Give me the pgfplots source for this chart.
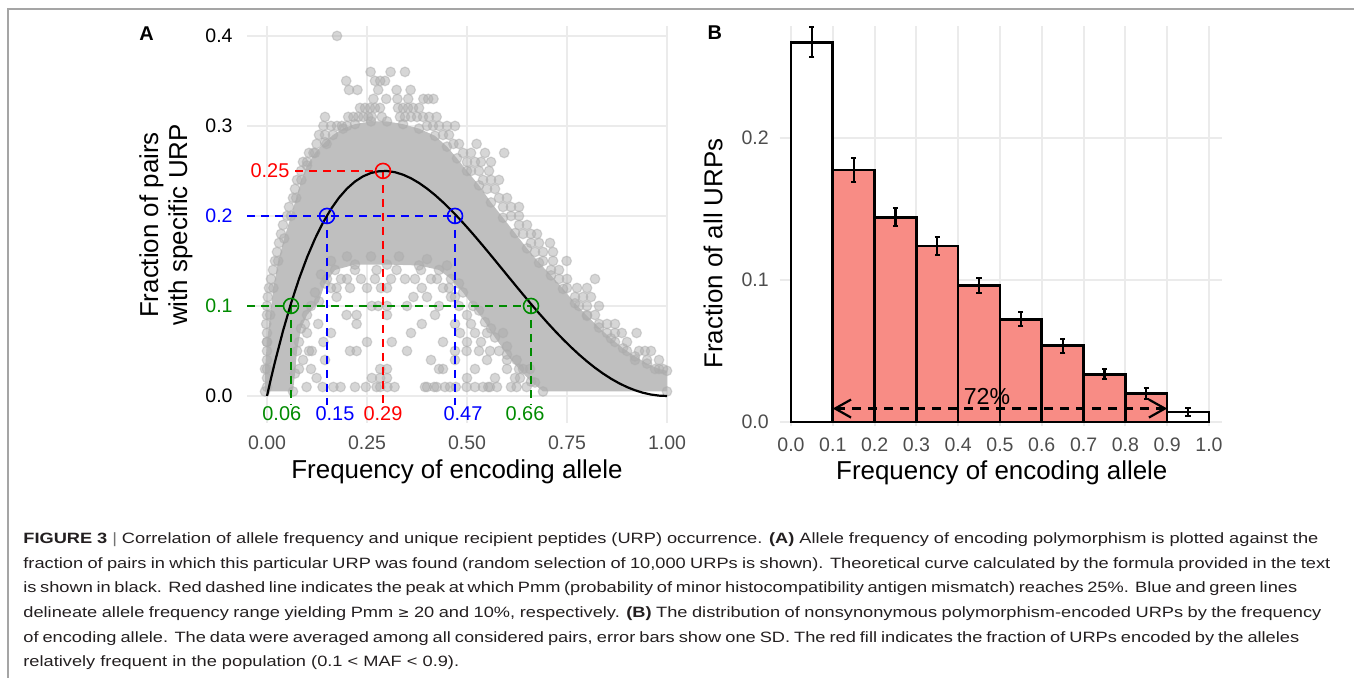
\documentclass[border=0pt]{standalone}
\usepackage{fontspec}
\setmainfont{Liberation Sans}
\newfontfamily\capfont[FakeStretch=1.22]{Liberation Sans}
\newfontfamily\djv{DejaVu Sans}
\usepackage{pgfplots}
\pgfplotsset{compat=1.18}
\usetikzlibrary{arrows.meta}
\definecolor{grn}{RGB}{0,139,0}
\definecolor{gridc}{RGB}{235,235,235}
\definecolor{tickc}{RGB}{77,77,77}
\definecolor{barred}{RGB}{248,140,133}
\definecolor{framec}{RGB}{165,165,165}
\definecolor{captc}{RGB}{35,31,32}
\newcommand{\tickfont}{\fontsize{9.8}{11}\selectfont}
\newcommand{\titlefont}{\fontsize{13}{14.6}\selectfont}
\begin{document}
\begin{tikzpicture}
\path[use as bounding box] (0,0) rectangle (677bp,339bp);
\draw[framec, line width=0.8bp] (4bp,0) -- (4bp,334.5bp) -- (677bp,334.5bp);

% ---------------- Panel A ----------------
\begin{axis}[at={(123.5bp,127.5bp)}, anchor=south west, scale only axis,
  width=210bp, height=198.5bp,
  xmin=-0.05, xmax=1.0, ymin=-0.03, ymax=0.411,
  axis line style={draw=none}, major tick length=0pt,
  xtick={0,0.25,0.5,0.75,1}, xticklabels={0.00,0.25,0.50,0.75,1.00},
  ytick={0,0.1,0.2,0.3,0.4},
  yticklabels={0.0,\textcolor{grn}{0.1},\textcolor{blue}{0.2},0.3,0.4},
  xticklabel style={font=\tickfont, text=tickc, anchor=north, inner sep=0pt, yshift=-6bp},
  yticklabel style={font=\tickfont, text=black, anchor=east, inner sep=0pt, xshift=-7bp},
  grid=major, major grid style={gridc, line width=1bp},
  clip mode=individual,
]
\pgfplotstableread{
x y
-0.005 0.005
-0.005 0.03
0.0 0.06
0.008 0.09
0.016 0.12
0.028 0.15
0.043 0.175
0.06 0.2
0.073 0.22
0.086 0.24
0.1 0.256
0.12 0.27
0.145 0.282
0.165 0.29
0.19 0.297
0.22 0.302
0.26 0.305
0.3 0.305
0.34 0.302
0.38 0.297
0.42 0.289
0.45 0.277
0.475 0.264
0.5 0.25
0.53 0.234
0.56 0.215
0.59 0.198
0.62 0.181
0.65 0.164
0.68 0.148
0.71 0.134
0.74 0.119
0.77 0.103
0.8 0.089
0.83 0.076
0.86 0.064
0.89 0.053
0.92 0.044
0.95 0.036
0.98 0.03
1.0 0.028
1.0 0.005
0.69 0.005
0.66 0.016
0.63 0.03
0.6 0.046
0.57 0.065
0.545 0.082
0.515 0.1
0.49 0.115
0.46 0.13
0.43 0.14
0.38 0.145
0.3 0.146
0.22 0.146
0.17 0.14
0.145 0.125
0.13 0.105
0.1 0.09
0.085 0.075
0.075 0.05
0.07 0.025
0.065 0.005
}\core
% dense core of the scatter
\addplot[fill=black!25, draw=none] table {\core} -- cycle;
% points on the edge of the core
\addplot[only marks, mark=*, mark size=2.4bp,
  mark options={fill=black!32, draw=black!32, line width=0.6bp, opacity=0.5}] table {\core};
% individual points
\addplot[only marks, mark=*, mark size=2.4bp,
  mark options={fill=black!32, draw=black!32, line width=0.6bp, opacity=0.5}] table {
x y
0.175 0.40
0.259 0.36
0.309 0.36
0.345 0.36
0.198 0.35
0.27 0.35
0.283 0.35
0.295 0.35
0.205 0.34
0.226 0.34
0.278 0.34
0.324 0.34
0.359 0.34
0.266 0.33
0.298 0.33
0.326 0.33
0.353 0.33
0.391 0.33
0.403 0.33
0.416 0.33
0.2325 0.32
0.245 0.32
0.2575 0.32
0.27 0.32
0.2825 0.32
0.3275 0.32
0.34 0.32
0.3525 0.32
0.365 0.32
0.38 0.32
0.145 0.31
0.203 0.31
0.216 0.31
0.228 0.31
0.241 0.31
0.253 0.31
0.262 0.31
0.287 0.31
0.3325 0.31
0.345 0.31
0.36 0.31
0.375 0.31
0.39 0.31
0.405 0.31
0.424 0.31
0.141 0.30
0.16 0.30
0.175 0.30
0.187 0.30
0.2 0.30
0.4 0.30
0.415 0.30
0.43 0.30
0.45 0.30
0.47 0.30
0.13 0.29
0.145 0.29
0.44 0.29
0.455 0.29
0.124 0.28
0.149 0.28
0.466 0.28
0.48 0.28
0.524 0.28
0.105 0.27
0.116 0.27
0.49 0.27
0.51 0.27
0.545 0.27
0.593 0.27
0.09 0.26
0.1 0.26
0.5 0.26
0.52 0.26
0.535 0.26
0.56 0.26
0.085 0.25
0.51 0.25
0.53 0.25
0.555 0.25
0.075 0.24
0.54 0.24
0.56 0.24
0.58 0.24
0.07 0.23
0.55 0.23
0.57 0.23
0.065 0.22
0.58 0.22
0.6 0.22
0.055 0.21
0.59 0.21
0.61 0.21
0.63 0.21
0.05 0.20
0.61 0.20
0.63 0.20
0.04 0.19
0.63 0.19
0.65 0.19
0.035 0.18
0.64 0.18
0.66 0.18
0.675 0.18
0.03 0.17
0.66 0.17
0.68 0.17
0.7075 0.17
0.025 0.16
0.67 0.16
0.69 0.16
0.715 0.16
0.02 0.15
0.69 0.15
0.715 0.15
0.749 0.15
0.015 0.14
0.71 0.14
0.73 0.14
0.01 0.13
0.73 0.13
0.75 0.13
0.82 0.13
0.005 0.12
0.75 0.12
0.775 0.12
0.8 0.12
0.002 0.11
0.77 0.11
0.79 0.11
0.81 0.11
0.0 0.10
0.78 0.10
0.8 0.10
0.83 0.10
0.0 0.09
0.8 0.09
0.82 0.09
-0.002 0.08
0.83 0.08
0.85 0.08
0.87 0.08
0.0 0.07
0.85 0.07
0.87 0.07
0.887 0.07
0.924 0.07
0.0 0.06
0.87 0.06
0.9 0.06
0.0 0.05
0.9 0.05
0.93 0.05
0.945 0.05
0.96 0.05
0.0 0.04
0.92 0.04
0.95 0.04
0.98 0.04
0.0 0.03
0.97 0.03
0.99 0.03
0.0 0.02
0.0 0.01
0.099 0.01
0.139 0.01
0.166 0.01
0.184 0.01
0.22 0.01
0.247 0.01
0.274 0.01
0.283 0.01
0.301 0.01
0.319 0.01
0.395 0.01
0.40 0.01
0.418 0.01
0.424 0.01
0.445 0.01
0.4575 0.01
0.472 0.01
0.499 0.01
0.52 0.01
0.54 0.01
0.553 0.01
0.5575 0.01
0.575 0.01
0.61 0.01
0.624 0.01
0.649 0.01
0.124 0.02
0.262 0.02
0.283 0.02
0.3 0.02
0.5 0.02
0.57 0.02
0.6325 0.02
0.283 0.03
0.3 0.03
0.43 0.03
0.44 0.03
0.52 0.03
0.6 0.03
0.6575 0.03
0.09 0.04
0.145 0.04
0.41 0.04
0.47 0.04
0.55 0.04
0.624 0.04
0.112 0.05
0.2075 0.05
0.224 0.05
0.35 0.05
0.47 0.05
0.499 0.05
0.53 0.05
0.5575 0.05
0.141 0.06
0.25 0.06
0.312 0.06
0.44 0.06
0.5 0.06
0.16 0.07
0.36 0.07
0.4825 0.07
0.52 0.07
0.55 0.07
0.59 0.07
0.128 0.08
0.224 0.08
0.387 0.08
0.47 0.08
0.199 0.09
0.224 0.09
0.3 0.09
0.42 0.09
0.262 0.10
0.278 0.10
0.3 0.10
0.35 0.10
0.43 0.10
0.48 0.10
0.174 0.11
0.366 0.11
0.4 0.11
0.46 0.11
0.174 0.12
0.2075 0.12
0.25 0.12
0.3 0.12
0.387 0.12
0.44 0.12
0.15 0.13
0.2 0.13
0.27 0.13
0.345 0.13
0.41 0.13
0.22 0.14
0.274 0.14
0.324 0.14
0.385 0.14
0.12 0.115
0.135 0.135
0.16 0.15
0.2 0.155
0.26 0.155
0.33 0.155
0.4 0.152
0.45 0.145
0.48 0.125
0.53 0.095
0.56 0.075
0.6 0.055
0.64 0.03
0.67 0.015
0.08 0.03
0.08 0.06
0.095 0.08
0.11 0.1
0.185 0.13
0.235 0.13
0.31 0.13
0.37 0.13
0.425 0.13
0.16 0.12
0.285 0.12
0.455 0.12
0.47 0.11
0.5 0.09
0.51 0.08
0.535 0.06
0.58 0.05
0.6 0.04
0.62 0.02
0.1 0.07
0.105 0.05
0.11 0.03
};
% guide lines
\addplot[red, line width=1bp, dash pattern=on 4bp off 3bp] coordinates {(0.07,0.25) (0.29,0.25)};
\addplot[red, line width=1bp, dash pattern=on 4bp off 3bp] coordinates {(0.29,0.25) (0.29,-0.01)};
\addplot[blue, line width=1bp, dash pattern=on 4bp off 3bp] coordinates {(-0.05,0.2) (0.47,0.2)};
\addplot[blue, line width=1bp, dash pattern=on 4bp off 3bp] coordinates {(0.15,0.2) (0.15,-0.01)};
\addplot[blue, line width=1bp, dash pattern=on 4bp off 3bp] coordinates {(0.47,0.2) (0.47,-0.01)};
\addplot[grn, line width=1bp, dash pattern=on 4bp off 3bp] coordinates {(-0.05,0.1) (0.66,0.1)};
\addplot[grn, line width=1bp, dash pattern=on 4bp off 3bp] coordinates {(0.06,0.1) (0.06,-0.01)};
\addplot[grn, line width=1bp, dash pattern=on 4bp off 3bp] coordinates {(0.66,0.1) (0.66,-0.01)};
% theoretical curve
\addplot[black, line width=1.1bp] table {
x y
0 0
0.01 0.019504
0.02 0.038032
0.04 0.072253
0.06 0.102851
0.08 0.130007
0.10 0.1539
0.12 0.174705
0.14 0.192592
0.16 0.207729
0.18 0.220278
0.20 0.2304
0.22 0.238249
0.24 0.243978
0.26 0.247734
0.28 0.249661
0.30 0.2499
0.32 0.248586
0.34 0.245853
0.36 0.241828
0.38 0.236637
0.40 0.2304
0.42 0.223235
0.44 0.215255
0.46 0.206569
0.48 0.197284
0.50 0.1875
0.52 0.177316
0.54 0.166825
0.56 0.156119
0.58 0.145283
0.60 0.1344
0.62 0.123549
0.64 0.112804
0.66 0.102237
0.68 0.091914
0.70 0.0819
0.72 0.072253
0.74 0.063030
0.76 0.054282
0.78 0.046057
0.80 0.0384
0.82 0.031350
0.84 0.024945
0.86 0.019216
0.88 0.014193
0.90 0.0099
0.92 0.006359
0.94 0.003587
0.96 0.001597
0.98 0.0004
1.00 0
};
% circles
\addplot[only marks, mark=o, mark size=3.75bp, red, mark options={line width=0.8bp}] coordinates {(0.29,0.25)};
\addplot[only marks, mark=o, mark size=3.75bp, blue, mark options={line width=0.8bp}] coordinates {(0.15,0.2) (0.47,0.2)};
\addplot[only marks, mark=o, mark size=3.75bp, grn, mark options={line width=0.8bp}] coordinates {(0.06,0.1) (0.66,0.1)};
% labels
\node[text=red, font=\fontsize{10}{12}\selectfont, inner sep=0pt] at (axis cs:0.0075,0.25) {0.25};
\node[text=grn, font=\fontsize{10}{12}\selectfont, inner sep=0pt] at (axis cs:0.037,-0.0193) {0.06};
\node[text=blue, font=\fontsize{10}{12}\selectfont, inner sep=0pt] at (axis cs:0.17,-0.0193) {0.15};
\node[text=red, font=\fontsize{10}{12}\selectfont, inner sep=0pt] at (axis cs:0.29,-0.0193) {0.29};
\node[text=blue, font=\fontsize{10}{12}\selectfont, inner sep=0pt] at (axis cs:0.49,-0.0193) {0.47};
\node[text=grn, font=\fontsize{10}{12}\selectfont, inner sep=0pt] at (axis cs:0.645,-0.0193) {0.66};
\end{axis}

% ---------------- Panel B ----------------
\begin{axis}[at={(389.85bp,125.85bp)}, anchor=south west, scale only axis,
  width=220.9bp, height=200.2bp,
  xmin=-0.027, xmax=1.03, ymin=-0.003, ymax=0.279,
  axis line style={draw=none}, major tick length=0pt,
  xtick={0,0.1,0.2,0.3,0.4,0.5,0.6,0.7,0.8,0.9,1.0},
  xticklabels={0.0,0.1,0.2,0.3,0.4,0.5,0.6,0.7,0.8,0.9,1.0},
  ytick={0,0.1,0.2}, yticklabels={0.0,0.1,0.2},
  xticklabel style={font=\tickfont, text=tickc, anchor=north, inner sep=0pt, yshift=-5.5bp},
  yticklabel style={font=\tickfont, text=tickc, anchor=east, inner sep=0pt, xshift=-5.3bp},
  grid=major, major grid style={gridc, line width=1bp},
  clip mode=individual,
]
\addplot[ybar, bar width=0.1, bar shift=0pt, fill=white, draw=black, line width=1.3bp,
  error bars/.cd, y dir=both, y explicit,
  error bar style={line width=1.1bp, black},
  error mark options={rotate=90, mark size=1.3bp, line width=1.1bp, black}]
  table[x=x, y=y, y error=e] {
x y e
0.05 0.2675 0.0105
0.95 0.0072 0.0029
};
\addplot[ybar, bar width=0.1, bar shift=0pt, fill=barred, draw=black, line width=1.3bp,
  error bars/.cd, y dir=both, y explicit,
  error bar style={line width=1.1bp, black},
  error mark options={rotate=90, mark size=1.3bp, line width=1.1bp, black}]
  table[x=x, y=y, y error=e] {
x y e
0.15 0.1776 0.0083
0.25 0.1442 0.0064
0.35 0.1241 0.0062
0.45 0.0960 0.0053
0.55 0.0724 0.0050
0.65 0.0537 0.0049
0.75 0.0336 0.0035
0.85 0.0201 0.0037
};
\addplot[black, line width=1.1bp, dash pattern=on 4.5bp off 3.5bp,
  {Straight Barb[length=8bp, width=9bp, line width=1.1bp]}-{Straight Barb[length=8bp, width=9bp, line width=1.1bp]}]
  coordinates {(0.1,0.0095) (0.9,0.0095)};
\node[font=\fontsize{11.6}{13}\selectfont, inner sep=0pt] at (axis cs:0.469,0.0178) {72\%};
\end{axis}

% ---------------- titles ----------------
\node[font=\bfseries\fontsize{10}{12}\selectfont, inner sep=0pt] at (73.25bp,322bp) {A};
\node[font=\bfseries\fontsize{10}{12}\selectfont, inner sep=0pt] at (357.35bp,322.5bp) {B};
\node[font=\titlefont, inner sep=0pt] at (228.5bp,103bp) {Frequency of encoding allele};
\node[font=\titlefont, inner sep=0pt] at (500.9bp,102.75bp) {Frequency of encoding allele};
\node[font=\titlefont, inner sep=0pt, rotate=90, align=center] at (83bp,226.5bp) {Fraction of pairs\\with specific URP};
\node[font=\titlefont, inner sep=0pt, rotate=90] at (356.5bp,212.25bp) {Fraction of all URPs};

% ---------------- caption ----------------
\begin{scope}[every node/.style={anchor=base west, inner sep=0pt, text=captc, font=\capfont\fontsize{7.5}{9}\selectfont}]
\node at (11.5bp,67bp) {\makebox[647.5bp][s]{\textbf{FIGURE 3} \textcolor{black!55}{|} Correlation of allele frequency and unique recipient peptides (URP) occurrence. \textbf{(A)} Allele frequency of encoding polymorphism is plotted against the}};
\node at (11.5bp,54.75bp) {\makebox[653.5bp][s]{fraction of pairs in which this particular URP was found (random selection of 10,000 URPs is shown). Theoretical curve calculated by the formula provided in the text}};
\node at (11.5bp,42.5bp) {\makebox[637bp][s]{is shown in black. Red dashed line indicates the peak at which Pmm (probability of minor histocompatibility antigen mismatch) reaches 25\%. Blue and green lines}};
\node at (11.5bp,30.25bp) {\makebox[649bp][s]{delineate allele frequency range yielding Pmm {\djv\fontsize{7}{9}\selectfont ≥} 20 and 10\%, respectively. \textbf{(B)} The distribution of nonsynonymous polymorphism-encoded URPs by the frequency}};
\node at (11.5bp,18bp) {\makebox[638bp][s]{of encoding allele. The data were averaged among all considered pairs, error bars show one SD. The red fill indicates the fraction of URPs encoded by the alleles}};
\node at (11.5bp,5.75bp) {relatively frequent in the population (0.1 < MAF < 0.9).};
\end{scope}
\end{tikzpicture}
\end{document}
